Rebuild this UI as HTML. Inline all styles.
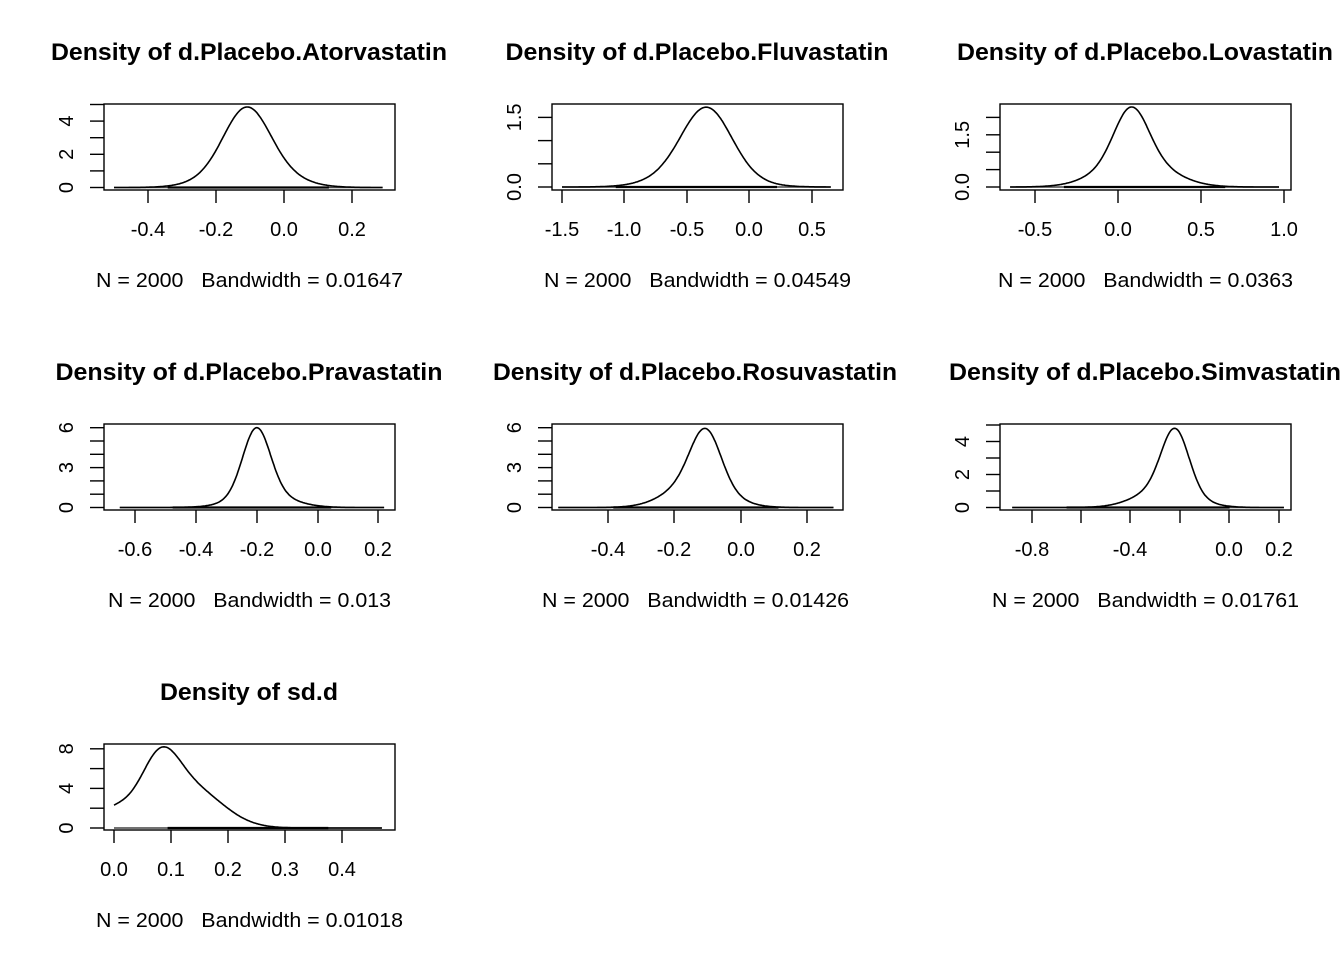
<!DOCTYPE html><html><head><meta charset="utf-8"><style>body{margin:0;background:#fff}svg{display:block}text{font-family:"Liberation Sans",sans-serif}</style></head><body>
<svg id="s" width="1344" height="960" xmlns="http://www.w3.org/2000/svg"></svg>
<script>
const P=[
{t:"Density of d.Placebo.Atorvastatin",tw:396,fw:307,cx:249,bx:104,by:104,xt:[[-0.4,148,"-0.4"],[-0.2,216,"-0.2"],[0,284,"0.0"],[0.2,352,"0.2"]],y0:187.5,yu:16.6,yt:[0,1,2,3,4,5],yl:[[0,"0"],[2,"2"],[4,"4"]],r:[-0.5,0.29],pk:4.85,g:[[0.55,-0.11,0.065],[0.45,-0.1,0.1]],bw:"0.01647"},
{t:"Density of d.Placebo.Fluvastatin",tw:383,fw:307,cx:697,bx:552,by:104,xt:[[-1.5,562,"-1.5"],[-1,624,"-1.0"],[-0.5,687,"-0.5"],[0,749,"0.0"],[0.5,812,"0.5"]],y0:187,yu:46.4,yt:[0,0.5,1,1.5],yl:[[0,"0.0"],[1.5,"1.5"]],r:[-1.5,0.65],pk:1.72,g:[[0.6,-0.34,0.19],[0.4,-0.38,0.28]],bw:"0.04549"},
{t:"Density of d.Placebo.Lovastatin",tw:376,fw:295,cx:1145,bx:1000,by:104,xt:[[-0.5,1035,"-0.5"],[0,1118,"0.0"],[0.5,1201,"0.5"],[1,1284,"1.0"]],y0:187,yu:34.8,yt:[0,0.5,1,1.5,2],yl:[[0,"0.0"],[1.5,"1.5"]],r:[-0.65,0.97],pk:2.3,g:[[0.45,0.08,0.1],[0.55,0.1,0.2]],bw:"0.0363"},
{t:"Density of d.Placebo.Pravastatin",tw:387,fw:283,cx:249,bx:104,by:424,xt:[[-0.6,135,"-0.6"],[-0.4,196,"-0.4"],[-0.2,257,"-0.2"],[0,318,"0.0"],[0.2,378,"0.2"]],y0:507.5,yu:13.3,yt:[0,1,2,3,4,5,6],yl:[[0,"0"],[3,"3"],[6,"6"]],r:[-0.65,0.22],pk:6.0,g:[[0.7,-0.2,0.045],[0.3,-0.18,0.09]],bw:"0.013"},
{t:"Density of d.Placebo.Rosuvastatin",tw:404,fw:307,cx:695,bx:552,by:424,xt:[[-0.4,608,"-0.4"],[-0.2,674,"-0.2"],[0,741,"0.0"],[0.2,807,"0.2"]],y0:507.5,yu:13.3,yt:[0,1,2,3,4,5,6],yl:[[0,"0"],[3,"3"],[6,"6"]],r:[-0.55,0.28],pk:5.95,g:[[0.5,-0.105,0.045],[0.5,-0.13,0.085]],bw:"0.01426"},
{t:"Density of d.Placebo.Simvastatin",tw:392,fw:307,cx:1145,bx:1000,by:424,xt:[[-0.8,1032,"-0.8"],[-0.6,1081,""],[-0.4,1130,"-0.4"],[-0.2,1180,""],[0,1229,"0.0"],[0.2,1279,"0.2"]],y0:507.5,yu:16.5,yt:[0,1,2,3,4,5],yl:[[0,"0"],[2,"2"],[4,"4"]],r:[-0.88,0.22],pk:4.8,g:[[0.6,-0.22,0.055],[0.4,-0.26,0.11]],bw:"0.01761"},
{t:"Density of sd.d",tw:178,fw:307,cx:249,bx:104,by:744,xt:[[0,114,"0.0"],[0.1,171,"0.1"],[0.2,228,"0.2"],[0.3,285,"0.3"],[0.4,342,"0.4"]],y0:828,yu:9.9,yt:[0,2,4,6,8],yl:[[0,"0"],[4,"4"],[8,"8"]],r:[0,0.47],sd:1,pk:8.2,bw:"0.01018"}
];
let h="";
for(const p of P){
 const W=291,H=86,[a,b]=[p.xt[0],p.xt[p.xt.length-1]];
 const k=(b[1]-a[1])/(b[0]-a[0]); const X=v=>a[1]+(v-a[0])*k; const Y=d=>p.y0-d*p.yu;
 h+=`<text x="${p.cx}" y="${p.by-44}" font-size="24" font-weight="bold" text-anchor="middle" textLength="${p.tw}" lengthAdjust="spacingAndGlyphs">${p.t}</text>`;
 h+=`<rect x="${p.bx}" y="${p.by}" width="${W}" height="${H}" fill="none" stroke="#000" stroke-width="1.4"/>`;
 const xb=p.by+H;
 for(const t of p.xt){h+=`<line x1="${t[1]}" x2="${t[1]}" y1="${xb}" y2="${xb+13}" stroke="#000" stroke-width="1.4"/>`;
  if(t[2])h+=`<text x="${t[1]}" y="${p.by+132}" font-size="20" text-anchor="middle">${t[2]}</text>`;}
 const ya=p.bx-14;
 for(const t of p.yt)h+=`<line x1="${ya}" x2="${p.bx}" y1="${Y(t)}" y2="${Y(t)}" stroke="#000" stroke-width="1.4"/>`;
 for(const t of p.yl)h+=`<text transform="translate(${p.bx-31},${Y(t[0])}) rotate(-90)" font-size="20" text-anchor="middle">${t[1]}</text>`;
 h+=`<text x="${p.cx+0.5}" y="${p.by+183}" font-size="20" text-anchor="middle" textLength="${p.fw}" lengthAdjust="spacingAndGlyphs">N = 2000&#160;&#160;&#160;Bandwidth = ${p.bw}</text>`;
 h+=`<line x1="${X(p.r[0])}" x2="${X(p.r[1])}" y1="${p.y0}" y2="${p.y0}" stroke="#444" stroke-width="1.5"/>`;
 const m=(p.r[0]+p.r[1])/2;
 h+=`<line x1="${X(p.r[0]*0.6+m*0.4)}" x2="${X(p.r[1]*0.6+m*0.4)}" y1="${p.y0}" y2="${p.y0}" stroke="#000" stroke-width="2.2"/>`;
 const pts=[];let mx=0;
 for(let i=0;i<=300;i++){const v=p.r[0]+(p.r[1]-p.r[0])*i/300;let f=0;
  const g=(mu,s,w)=>w*Math.exp(-0.5*((v-mu)/s)**2)/(s*2.5066);
  if(p.sd){f=g(0.08,0.033,0.4)+g(0.135,0.055,0.48)+g(0.0,0.035,0.14);}
  else for(const [w,mu,s] of p.g)f+=g(mu,s,w);
  pts.push([v,f]);mx=Math.max(mx,f);}
 let d="";pts.forEach(([v,f],i)=>{d+=(i?"L":"M")+X(v).toFixed(1)+","+Y(f*p.pk/mx).toFixed(1)});
 h+=`<path d="${d}" fill="none" stroke="#000" stroke-width="1.6"/>`;
}
document.getElementById("s").innerHTML=h;
</script></body></html>
